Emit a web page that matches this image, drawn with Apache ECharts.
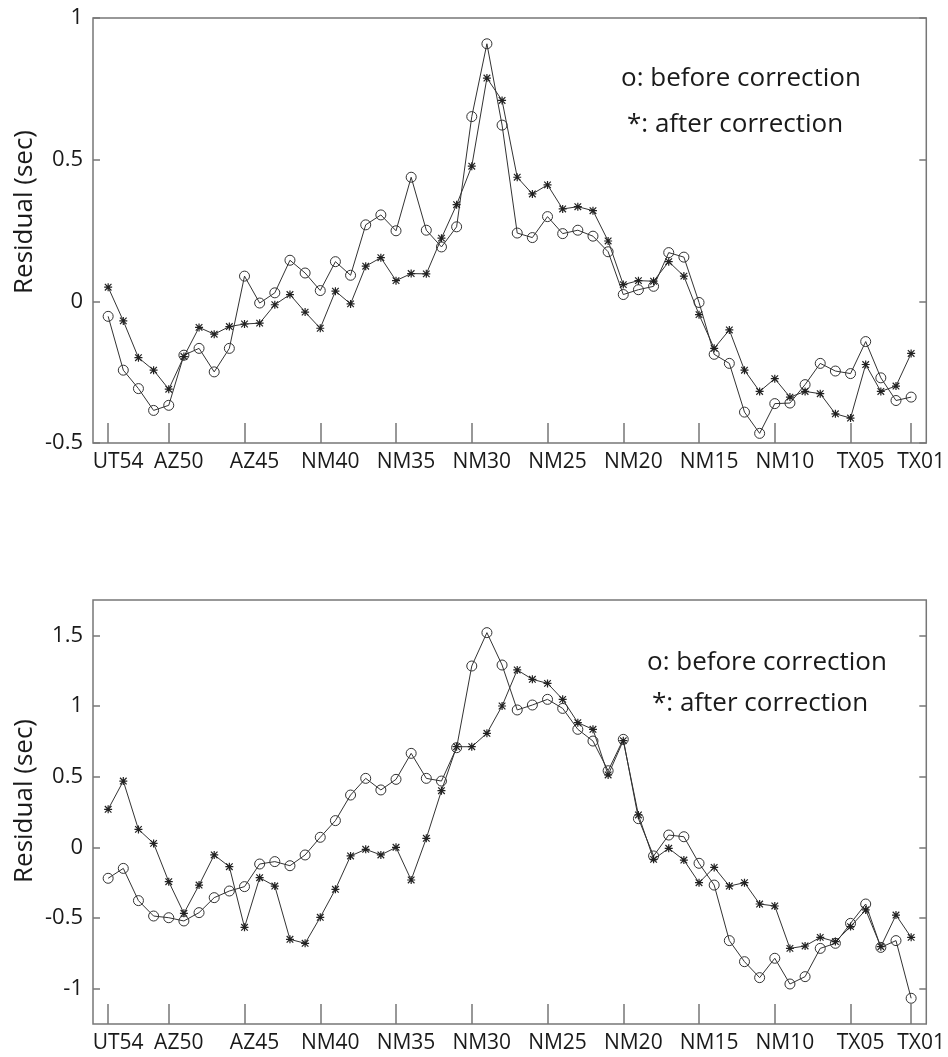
<!DOCTYPE html>
<html>
<head>
<meta charset="utf-8">
<script src="https://cdn.jsdelivr.net/npm/echarts@6/dist/echarts.min.js"></script>
<style>
  html, body { margin: 0; padding: 0; background: #fff; }
  #chart { width: 948px; height: 1057px; }
</style>
</head>
<body>
<div id="chart"></div>
<script>
const mychart = echarts.init(document.getElementById('chart'))

// station index along the profile (0 = UT54 ... 53 = TX01)
const stationTicks = [0, 4, 9, 14, 19, 24, 29, 34, 39, 44, 49, 53]
const stationLabels = ['UT54', 'AZ50', 'AZ45', 'NM40', 'NM35', 'NM30', 'NM25', 'NM20', 'NM15', 'NM10', 'TX05', 'TX01']

const topTicks = [-0.5, 0, 0.5, 1]
const bottomTicks = [-1, -0.5, 0, 0.5, 1, 1.5]

// upper panel
const beforeTop = [-0.053, -0.243, -0.308, -0.385, -0.367, -0.19, -0.166, -0.249, -0.166, 0.089,
    -0.006, 0.03, 0.145, 0.10, 0.038, 0.14, 0.092, 0.27, 0.305, 0.249,
    0.438, 0.251, 0.192, 0.263, 0.652, 0.909, 0.622, 0.241, 0.225, 0.299,
    0.239, 0.251, 0.23, 0.175, 0.024, 0.041, 0.053, 0.172, 0.156, -0.004,
    -0.187, -0.219, -0.391, -0.466, -0.361, -0.359, -0.294, -0.219, -0.246, -0.255,
    -0.142, -0.27, -0.35, -0.338]
const afterTop = [0.05, -0.069, -0.199, -0.243, -0.31, -0.195, -0.092, -0.116, -0.089, -0.08,
    -0.077, -0.012, 0.024, -0.038, -0.095, 0.036, -0.009, 0.124, 0.154, 0.073,
    0.098, 0.097, 0.223, 0.341, 0.477, 0.788, 0.709, 0.438, 0.379, 0.411,
    0.326, 0.334, 0.32, 0.213, 0.059, 0.073, 0.071, 0.14, 0.089, -0.047,
    -0.166, -0.101, -0.243, -0.318, -0.273, -0.338, -0.318, -0.326, -0.397, -0.412,
    -0.223, -0.318, -0.299, -0.184]

// lower panel
const beforeBottom = [-0.219, -0.149, -0.377, -0.486, -0.498, -0.521, -0.462, -0.356, -0.309, -0.278,
    -0.118, -0.101, -0.13, -0.054, 0.071, 0.189, 0.37, 0.488, 0.406, 0.481,
    0.665, 0.488, 0.469, 0.705, 1.283, 1.519, 1.29, 0.972, 1.007, 1.047,
    0.983, 0.835, 0.752, 0.542, 0.764, 0.203, -0.061, 0.087, 0.075, -0.113,
    -0.267, -0.66, -0.809, -0.922, -0.785, -0.967, -0.915, -0.715, -0.679, -0.538,
    -0.401, -0.708, -0.66, -1.068]
const afterBottom = [0.269, 0.469, 0.127, 0.028, -0.243, -0.467, -0.267, -0.054, -0.137, -0.566,
    -0.215, -0.274, -0.651, -0.679, -0.495, -0.297, -0.061, -0.014, -0.054, 0.0,
    -0.231, 0.064, 0.401, 0.712, 0.712, 0.807, 1.0, 1.255, 1.189, 1.16,
    1.047, 0.882, 0.835, 0.512, 0.755, 0.229, -0.085, -0.007, -0.09, -0.25,
    -0.142, -0.274, -0.25, -0.401, -0.415, -0.715, -0.698, -0.637, -0.667, -0.561,
    -0.443, -0.703, -0.479, -0.637]

const FONT = 'Open Sans'
const INK = '#1a1a1a'
const FRAME = '#777'
const STAR = 'path://M8.5,0H11.5V20H8.5Z M0,8.5H20V11.5H0Z M2.8,0.7L19.3,17.2L17.2,19.3L0.7,2.8Z M17.2,0.7L19.3,2.8L2.8,19.3L0.7,17.2Z'

const pairs = arr => arr.map((v, i) => [i, v])

function xAxisFor(gi) {
    return {
        type: 'value', gridIndex: gi, min: -1, max: 54, position: 'bottom',
        axisLine: { show: false, onZero: false },
        splitLine: { show: false },
        axisTick: { inside: true, length: 20, customValues: stationTicks, lineStyle: { color: FRAME, width: 1.5 } },
        axisLabel: {
            customValues: stationTicks,
            formatter: v => stationLabels[stationTicks.indexOf(v)] || '',
            fontFamily: FONT, fontSize: 21, color: INK, margin: 9,
            padding: [0, 0, 0, 20]
        }
    }
}

function yAxisFor(gi, lo, hi, ticks, right) {
    return {
        type: 'value', gridIndex: gi, min: lo, max: hi, position: right ? 'right' : 'left',
        axisLine: { show: false, onZero: false },
        splitLine: { show: false },
        axisTick: { inside: true, length: 7, customValues: ticks, lineStyle: { color: FRAME, width: 1.5 } },
        axisLabel: {
            show: !right, customValues: ticks,
            fontFamily: FONT, fontSize: 22, color: INK, margin: 10
        }
    }
}

function lineSeries(data, gi, marker) {
    const s = {
        type: 'line', xAxisIndex: gi, yAxisIndex: gi * 2,
        data: pairs(data),
        lineStyle: { color: '#333', width: 1 },
        emphasis: { disabled: true },
        z: 3
    }
    if (marker === 'o') {
        s.symbol = 'circle'
        s.symbolSize = 10
        s.itemStyle = { color: 'rgba(0,0,0,0)', borderColor: '#333', borderWidth: 1 }
    } else {
        s.symbol = STAR
        s.symbolSize = 8
        s.itemStyle = { color: '#222', borderWidth: 0 }
    }
    return s
}

function label(text, x, y, size, rot) {
    return {
        type: 'text', x: x, y: y, rotation: rot || 0,
        style: { text: text, fontFamily: FONT, fontSize: size, fill: INK, align: rot ? 'center' : 'left', verticalAlign: 'middle' }
    }
}

mychart.setOption({
    animation: false,
    backgroundColor: '#fff',
    grid: [
        { left: 93, right: 19, top: 18, height: 425, show: true, borderColor: FRAME, borderWidth: 1.5 },
        { left: 93, right: 19, top: 600, height: 424, show: true, borderColor: FRAME, borderWidth: 1.5 }
    ],
    xAxis: [xAxisFor(0), xAxisFor(1)],
    yAxis: [
        yAxisFor(0, -0.5, 1, topTicks, false),
        yAxisFor(0, -0.5, 1, topTicks, true),
        yAxisFor(1, -1.25, 1.75, bottomTicks, false),
        yAxisFor(1, -1.25, 1.75, bottomTicks, true)
    ],
    series: [
        lineSeries(beforeTop, 0, 'o'),
        lineSeries(afterTop, 0, '*'),
        lineSeries(beforeBottom, 1, 'o'),
        lineSeries(afterBottom, 1, '*')
    ],
    graphic: [
        label('Residual (sec)', 25, 212, 26, Math.PI / 2),
        label('Residual (sec)', 25, 801, 26, Math.PI / 2),
        label('o: before correction', 621, 79, 26),
        label('*: after correction', 627, 125, 26),
        label('o: before correction', 647, 663, 26),
        label('*: after correction', 652, 704, 26)
    ]
})
</script>
</body>
</html>
